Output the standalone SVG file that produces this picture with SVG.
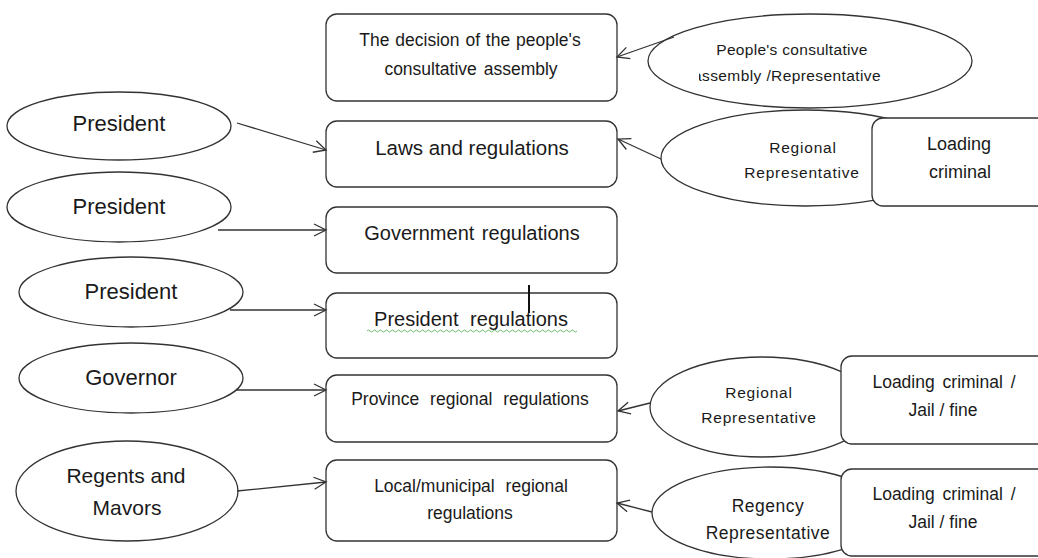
<svg xmlns="http://www.w3.org/2000/svg" width="1038" height="558" viewBox="0 0 1038 558">
<style>
  .box { fill: #fff; stroke: #333; stroke-width: 1.3; }
  .ell { fill: #fff; stroke: #333; stroke-width: 1.3; }
  .t { font-family: "Liberation Sans", Arial, sans-serif; fill: #1a1a1a; text-anchor: middle; }
  .conn { stroke: #333; stroke-width: 1.3; fill: none; marker-end: url(#arr); }
</style>
<defs>
  <marker id="arr" markerUnits="userSpaceOnUse" markerWidth="16" markerHeight="16" refX="13" refY="7" orient="auto">
    <path d="M1,1 L13,7 L1,13" fill="none" stroke="#333" stroke-width="1.3"/>
  </marker>
  <clipPath id="clipA"><rect x="699" y="0" width="300" height="120"/></clipPath>
</defs>
<rect width="1038" height="558" fill="#fff"/>

<!-- center boxes -->
<g id="n-decision">
  <rect class="box" x="326" y="14" width="291" height="87" rx="11"/>
  <text class="t" x="470" y="46" font-size="17.5" word-spacing="1">The decision of the people's</text>
  <text class="t" x="471" y="75" font-size="17.5" word-spacing="2">consultative assembly</text>
</g>
<g id="n-laws">
  <rect class="box" x="326" y="121" width="291" height="66" rx="11"/>
  <text class="t" x="472" y="155" font-size="20.5">Laws and regulations</text>
</g>
<g id="n-gov">
  <rect class="box" x="326" y="207" width="291" height="66" rx="11"/>
  <text class="t" x="472" y="240" font-size="20" word-spacing="2">Government regulations</text>
</g>
<g id="n-presreg">
  <rect class="box" x="326" y="293" width="291" height="65" rx="11"/>
  <text class="t" x="471" y="326" font-size="20" word-spacing="6">President regulations</text>
  <path d="M367,331 q1.5,-2 3,0 t3,0 t3,0 t3,0 t3,0 t3,0 t3,0 t3,0 t3,0 t3,0 t3,0 t3,0 t3,0 t3,0 t3,0 t3,0 t3,0 t3,0 t3,0 t3,0 t3,0 t3,0 t3,0 t3,0 t3,0 t3,0 t3,0 t3,0 t3,0 t3,0 t3,0 t3,0 t3,0 t3,0 t3,0 t3,0 t3,0 t3,0 t3,0 t3,0 t3,0 t3,0 t3,0 t3,0 t3,0 t3,0 t3,0 t3,0 t3,0 t3,0 t3,0 t3,0 t3,0 t3,0 t3,0 t3,0 t3,0 t3,0 t3,0 t3,0 t3,0 t3,0 t3,0 t3,0 t3,0 t3,0 t3,0 t3,0 t3,0 t3,0" fill="none" stroke="#5cb85c" stroke-width="0.9"/>
  <line x1="529" y1="285" x2="529" y2="313" stroke="#111" stroke-width="2"/>
</g>
<g id="n-province">
  <rect class="box" x="326" y="375" width="291" height="67" rx="11"/>
  <text class="t" x="470" y="405" font-size="17.5" word-spacing="6">Province regional regulations</text>
</g>
<g id="n-local">
  <rect class="box" x="326" y="460" width="291" height="81" rx="11"/>
  <text class="t" x="471" y="492" font-size="17.5" word-spacing="6">Local/municipal regional</text>
  <text class="t" x="470" y="519" font-size="17.5">regulations</text>
</g>

<!-- left ellipses -->
<g id="n-pres1">
  <ellipse class="ell" cx="119" cy="126" rx="112" ry="34"/>
  <text class="t" x="119" y="131" font-size="22">President</text>
</g>
<g id="n-pres2">
  <ellipse class="ell" cx="119" cy="207" rx="112" ry="35"/>
  <text class="t" x="119" y="214" font-size="22">President</text>
</g>
<g id="n-pres3">
  <ellipse class="ell" cx="131" cy="292" rx="112" ry="35"/>
  <text class="t" x="131" y="299" font-size="22">President</text>
</g>
<g id="n-governor">
  <ellipse class="ell" cx="131" cy="378" rx="112" ry="35"/>
  <text class="t" x="131" y="385" font-size="22">Governor</text>
</g>
<g id="n-regents">
  <ellipse class="ell" cx="127" cy="491" rx="111" ry="50"/>
  <text class="t" x="126" y="483" font-size="21">Regents and</text>
  <text class="t" x="127" y="515" font-size="21">Mavors</text>
</g>

<!-- right side -->
<g id="n-mpr">
  <ellipse class="ell" cx="810" cy="61" rx="162" ry="47"/>
  <text class="t" x="792" y="55" font-size="15.5" letter-spacing="0.3">People's consultative</text>
  <text class="t" x="787" y="81" font-size="15.5" letter-spacing="0.4" clip-path="url(#clipA)">assembly /Representative</text>
</g>
<g id="n-regrep1">
  <ellipse class="ell" cx="805" cy="158" rx="144" ry="48"/>
  <text class="t" x="803" y="153" font-size="15.5" letter-spacing="0.8">Regional</text>
  <text class="t" x="802" y="178" font-size="15.5" letter-spacing="0.8">Representative</text>
</g>
<g id="n-load1">
  <rect class="box" x="872" y="118" width="180" height="88" rx="11"/>
  <text class="t" x="959" y="150" font-size="18">Loading</text>
  <text class="t" x="960" y="178" font-size="18">criminal</text>
</g>
<g id="n-regrep2">
  <ellipse class="ell" cx="762" cy="407" rx="112" ry="50"/>
  <text class="t" x="759" y="398" font-size="15.5" letter-spacing="0.8">Regional</text>
  <text class="t" x="759" y="423" font-size="15.5" letter-spacing="0.8">Representative</text>
</g>
<g id="n-load2">
  <rect class="box" x="841" y="356" width="210" height="88" rx="11"/>
  <text class="t" x="944" y="388" font-size="17.5" word-spacing="3">Loading criminal /</text>
  <text class="t" x="943" y="416" font-size="17.5">Jail / fine</text>
</g>
<g id="n-regrep3">
  <ellipse class="ell" cx="770" cy="513" rx="118" ry="46"/>
  <text class="t" x="768" y="512" font-size="17.5" letter-spacing="0.5">Regency</text>
  <text class="t" x="768" y="539" font-size="17.5" letter-spacing="0.5">Representative</text>
</g>
<g id="n-load3">
  <rect class="box" x="841" y="469" width="210" height="87" rx="11"/>
  <text class="t" x="944" y="500" font-size="17.5" word-spacing="3">Loading criminal /</text>
  <text class="t" x="943" y="528" font-size="17.5">Jail / fine</text>
</g>

<!-- connectors -->
<g id="connectors">
  <line class="conn" x1="237" y1="123" x2="326" y2="150"/>
  <line class="conn" x1="218" y1="230" x2="326" y2="230"/>
  <line class="conn" x1="230" y1="310" x2="326" y2="310"/>
  <line class="conn" x1="236" y1="390" x2="326" y2="390"/>
  <line class="conn" x1="237" y1="491" x2="326" y2="482"/>
  <line class="conn" x1="674" y1="37" x2="617" y2="57"/>
  <line class="conn" x1="661" y1="159" x2="618" y2="139"/>
  <line class="conn" x1="650" y1="403" x2="618" y2="411"/>
  <line class="conn" x1="652" y1="512" x2="617" y2="503"/>
</g>
</svg>
